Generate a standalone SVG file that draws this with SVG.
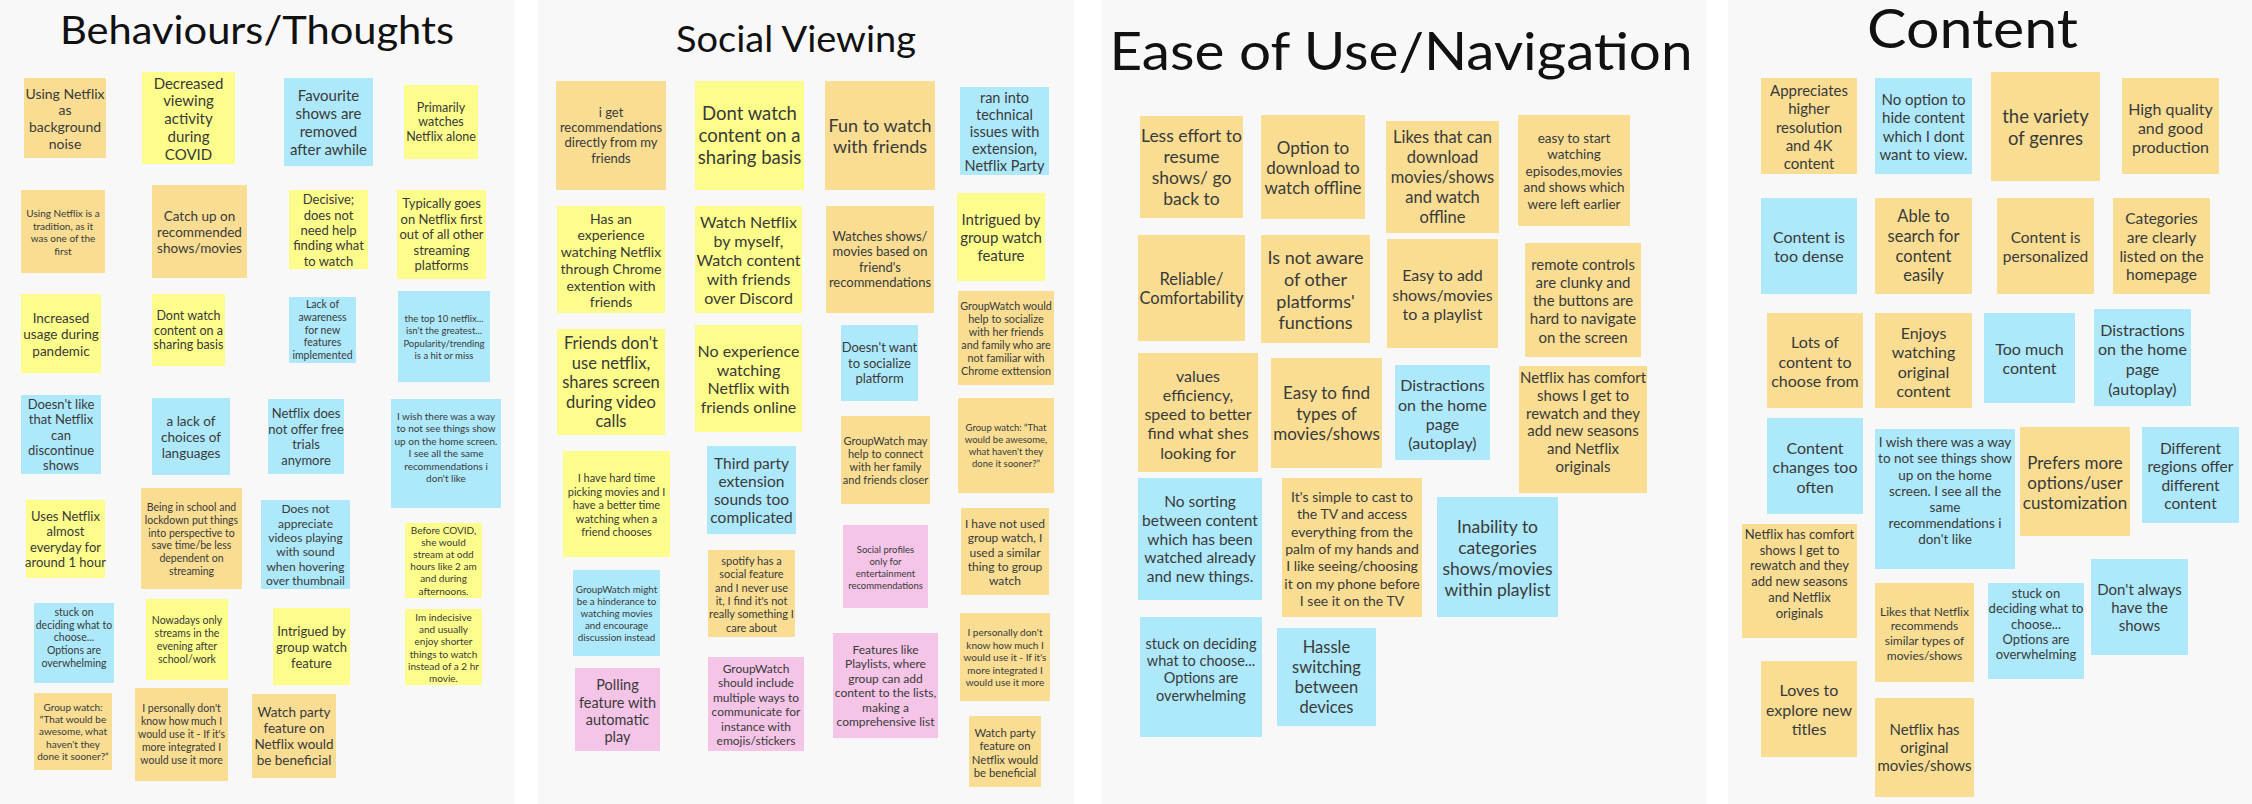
<svg xmlns="http://www.w3.org/2000/svg" width="2252" height="804" viewBox="0 0 2252 804">
<style>
.pn{fill:#f8f8f8}
.o{fill:#f8dd92}.y{fill:#fdfd8b}.b{fill:#ade9fa}.p{fill:#f4c5e7}
text{font-family:Lato,"Open Sans","Liberation Sans",sans-serif;fill:#3a3a3a;text-anchor:middle;dominant-baseline:central}
.ti{fill:#111;dominant-baseline:auto}
</style>
<rect width="2252" height="804" fill="#ffffff"/>
<g id="panels">
<rect class="pn" x="0" y="0" width="515" height="804"/>
<rect class="pn" x="538" y="0" width="536" height="804"/>
<rect class="pn" x="1101" y="0" width="606" height="804"/>
<rect class="pn" x="1728" y="0" width="524" height="804"/>
</g>
<g id="titles">
<text class="ti" x="257" y="44" font-size="38" textLength="394" lengthAdjust="spacingAndGlyphs">Behaviours/Thoughts</text>
<text class="ti" x="796" y="52" font-size="37" textLength="240" lengthAdjust="spacingAndGlyphs">Social Viewing</text>
<text class="ti" x="1401" y="70" font-size="53" textLength="583" lengthAdjust="spacingAndGlyphs">Ease of Use/Navigation</text>
<text class="ti" x="1972.5" y="48" font-size="55" textLength="211" lengthAdjust="spacingAndGlyphs">Content</text>
</g>

<g id="n1"><rect class="o" x="24" y="78" width="82" height="80"/><text font-size="14"><tspan x="65" y="92.7">Using Netflix</tspan><tspan x="65" dy="16.6">as</tspan><tspan x="65" dy="16.6">background</tspan><tspan x="65" dy="16.6">noise</tspan></text></g>
<g id="n2"><rect class="y" x="142" y="72" width="93" height="92"/><text font-size="15"><tspan x="188.5" y="82.7">Decreased</tspan><tspan x="188.5" dy="17.7">viewing</tspan><tspan x="188.5" dy="17.7">activity</tspan><tspan x="188.5" dy="17.7">during</tspan><tspan x="188.5" dy="17.7">COVID</tspan></text></g>
<g id="n3"><rect class="b" x="284" y="78" width="89" height="88"/><text font-size="15"><tspan x="328.5" y="95">Favourite</tspan><tspan x="328.5" dy="18">shows are</tspan><tspan x="328.5" dy="18">removed</tspan><tspan x="328.5" dy="18">after awhile</tspan></text></g>
<g id="n4"><rect class="y" x="404" y="85" width="74" height="74"/><text font-size="12.5"><tspan x="441" y="106.7">Primarily</tspan><tspan x="441" dy="14.7">watches</tspan><tspan x="441" dy="14.7">Netflix alone</tspan></text></g>
<g id="n5"><rect class="o" x="21" y="190" width="84" height="83"/><text font-size="10"><tspan x="63" y="213.3">Using Netflix is a</tspan><tspan x="63" dy="12.4">tradition, as it</tspan><tspan x="63" dy="12.4">was one of the</tspan><tspan x="63" dy="12.4">first</tspan></text></g>
<g id="n6"><rect class="o" x="152" y="185" width="95" height="93"/><text font-size="13.5"><tspan x="199.5" y="215.7">Catch up on</tspan><tspan x="199.5" dy="16">recommended</tspan><tspan x="199.5" dy="16">shows/movies</tspan></text></g>
<g id="n7"><rect class="y" x="289" y="190" width="79" height="79"/><text font-size="13"><tspan x="328.5" y="199.3">Decisive;</tspan><tspan x="328.5" dy="15.3">does not</tspan><tspan x="328.5" dy="15.3">need help</tspan><tspan x="328.5" dy="15.3">finding what</tspan><tspan x="328.5" dy="15.3">to watch</tspan></text></g>
<g id="n8"><rect class="y" x="397" y="190" width="89" height="89"/><text font-size="13"><tspan x="441.5" y="203.3">Typically goes</tspan><tspan x="441.5" dy="15.5">on Netflix first</tspan><tspan x="441.5" dy="15.5">out of all other</tspan><tspan x="441.5" dy="15.5">streaming</tspan><tspan x="441.5" dy="15.5">platforms</tspan></text></g>
<g id="n9"><rect class="y" x="21" y="294" width="80" height="79"/><text font-size="13.5"><tspan x="61" y="317.7">Increased</tspan><tspan x="61" dy="16.5">usage during</tspan><tspan x="61" dy="16.5">pandemic</tspan></text></g>
<g id="n10"><rect class="y" x="152" y="294" width="73" height="72"/><text font-size="12.5"><tspan x="188.5" y="315.3">Dont watch</tspan><tspan x="188.5" dy="14.5">content on a</tspan><tspan x="188.5" dy="14.5">sharing basis</tspan></text></g>
<g id="n11"><rect class="b" x="289" y="297" width="67" height="66"/><text font-size="10.5"><tspan x="322.5" y="304.3">Lack of</tspan><tspan x="322.5" dy="12.7">awareness</tspan><tspan x="322.5" dy="12.7">for new</tspan><tspan x="322.5" dy="12.7">features</tspan><tspan x="322.5" dy="12.7">implemented</tspan></text></g>
<g id="n12"><rect class="b" x="398" y="291" width="92" height="91"/><text font-size="9.5"><tspan x="444" y="318">the top 10 netflix...</tspan><tspan x="444" dy="12.3">isn't the greatest...</tspan><tspan x="444" dy="12.3">Popularity/trending</tspan><tspan x="444" dy="12.3">is a hit or miss</tspan></text></g>
<g id="n13"><rect class="b" x="21" y="395" width="80" height="79"/><text font-size="13"><tspan x="61" y="404.3">Doesn't like</tspan><tspan x="61" dy="15.1">that Netflix</tspan><tspan x="61" dy="15.1">can</tspan><tspan x="61" dy="15.1">discontinue</tspan><tspan x="61" dy="15.1">shows</tspan></text></g>
<g id="n14"><rect class="b" x="152" y="398" width="78" height="77"/><text font-size="13.5"><tspan x="191" y="420.7">a lack of</tspan><tspan x="191" dy="16">choices of</tspan><tspan x="191" dy="16">languages</tspan></text></g>
<g id="n15"><rect class="b" x="268" y="399" width="76" height="75"/><text font-size="13"><tspan x="306" y="413.3">Netflix does</tspan><tspan x="306" dy="15.5">not offer free</tspan><tspan x="306" dy="15.5">trials</tspan><tspan x="306" dy="15.5">anymore</tspan></text></g>
<g id="n16"><rect class="b" x="391" y="399" width="110" height="109"/><text font-size="10"><tspan x="446" y="415.7">I wish there was a way</tspan><tspan x="446" dy="12.5">to not see things show</tspan><tspan x="446" dy="12.5">up on the home screen.</tspan><tspan x="446" dy="12.5">I see all the same</tspan><tspan x="446" dy="12.5">recommendations i</tspan><tspan x="446" dy="12.5">don't like</tspan></text></g>
<g id="n17"><rect class="y" x="26" y="500" width="79" height="78"/><text font-size="13"><tspan x="65.5" y="516">Uses Netflix</tspan><tspan x="65.5" dy="15.3">almost</tspan><tspan x="65.5" dy="15.3">everyday for</tspan><tspan x="65.5" dy="15.3">around 1 hour</tspan></text></g>
<g id="n18"><rect class="o" x="141" y="488" width="101" height="101"/><text font-size="10.5"><tspan x="191.5" y="507">Being in school and</tspan><tspan x="191.5" dy="12.8">lockdown put things</tspan><tspan x="191.5" dy="12.8">into perspective to</tspan><tspan x="191.5" dy="12.8">save time/be less</tspan><tspan x="191.5" dy="12.8">dependent  on</tspan><tspan x="191.5" dy="12.8">streaming</tspan></text></g>
<g id="n19"><rect class="b" x="261" y="500" width="89" height="89"/><text font-size="12"><tspan x="305.5" y="508.3">Does not</tspan><tspan x="305.5" dy="14.3">appreciate</tspan><tspan x="305.5" dy="14.3">videos playing</tspan><tspan x="305.5" dy="14.3">with sound</tspan><tspan x="305.5" dy="14.3">when hovering</tspan><tspan x="305.5" dy="14.3">over thumbnail</tspan></text></g>
<g id="n20"><rect class="y" x="405" y="523" width="77" height="75"/><text font-size="10"><tspan x="443.5" y="530">Before COVID,</tspan><tspan x="443.5" dy="12.1">she would</tspan><tspan x="443.5" dy="12.1">stream at odd</tspan><tspan x="443.5" dy="12.1">hours like 2 am</tspan><tspan x="443.5" dy="12.1">and during</tspan><tspan x="443.5" dy="12.1">afternoons.</tspan></text></g>
<g id="n21"><rect class="b" x="34" y="603" width="80" height="80"/><text font-size="10.5"><tspan x="74" y="611.7">stuck on</tspan><tspan x="74" dy="12.8">deciding what to</tspan><tspan x="74" dy="12.8">choose...</tspan><tspan x="74" dy="12.8">Options are</tspan><tspan x="74" dy="12.8">overwhelming</tspan></text></g>
<g id="n22"><rect class="y" x="146" y="599" width="82" height="81"/><text font-size="10.5"><tspan x="187" y="619.7">Nowadays only</tspan><tspan x="187" dy="13">streams in the</tspan><tspan x="187" dy="13">evening after</tspan><tspan x="187" dy="13">school/work</tspan></text></g>
<g id="n23"><rect class="y" x="273" y="608" width="77" height="77"/><text font-size="13"><tspan x="311.5" y="631.3">Intrigued by</tspan><tspan x="311.5" dy="15.7">group watch</tspan><tspan x="311.5" dy="15.7">feature</tspan></text></g>
<g id="n24"><rect class="y" x="405" y="609" width="77" height="76"/><text font-size="10"><tspan x="443.5" y="616.7">Im indecisive</tspan><tspan x="443.5" dy="12.3">and usually</tspan><tspan x="443.5" dy="12.3">enjoy shorter</tspan><tspan x="443.5" dy="12.3">things to watch</tspan><tspan x="443.5" dy="12.3">instead of a 2 hr</tspan><tspan x="443.5" dy="12.3">movie.</tspan></text></g>
<g id="n25"><rect class="o" x="34" y="693" width="78" height="77"/><text font-size="10"><tspan x="73" y="707">Group watch:</tspan><tspan x="73" dy="12.2">“That would be</tspan><tspan x="73" dy="12.2">awesome, what</tspan><tspan x="73" dy="12.2">haven't they</tspan><tspan x="73" dy="12.2">done it sooner?”</tspan></text></g>
<g id="n26"><rect class="o" x="135" y="688" width="93" height="93"/><text font-size="10.5"><tspan x="181.5" y="708.3">I personally don't</tspan><tspan x="181.5" dy="12.9">know how much  I</tspan><tspan x="181.5" dy="12.9">would use it - If it's</tspan><tspan x="181.5" dy="12.9">more integrated I</tspan><tspan x="181.5" dy="12.9">would use it more</tspan></text></g>
<g id="n27"><rect class="o" x="252" y="694" width="84" height="84"/><text font-size="13.5"><tspan x="294" y="712">Watch party</tspan><tspan x="294" dy="16.1">feature on</tspan><tspan x="294" dy="16.1">Netflix would</tspan><tspan x="294" dy="16.1">be beneficial</tspan></text></g>

<g id="s1"><rect class="o" x="556" y="81" width="110" height="109"/><text font-size="13"><tspan x="611" y="111.7">i get</tspan><tspan x="611" dy="15.3">recommendations</tspan><tspan x="611" dy="15.3">directly from my</tspan><tspan x="611" dy="15.3">friends</tspan></text></g>
<g id="s2"><rect class="y" x="695" y="81" width="109" height="109"/><text font-size="18.5"><tspan x="749.5" y="113.3">Dont watch</tspan><tspan x="749.5" dy="22">content on a</tspan><tspan x="749.5" dy="22">sharing basis</tspan></text></g>
<g id="s3"><rect class="o" x="825" y="81" width="110" height="109"/><text font-size="18"><tspan x="880" y="124.7">Fun to watch</tspan><tspan x="880" dy="21.3">with friends</tspan></text></g>
<g id="s4"><rect class="b" x="960" y="87" width="89" height="88"/><text font-size="14.5"><tspan x="1004.5" y="96.7">ran into</tspan><tspan x="1004.5" dy="17.1">technical</tspan><tspan x="1004.5" dy="17.1">issues with</tspan><tspan x="1004.5" dy="17.1">extension,</tspan><tspan x="1004.5" dy="17.1">Netflix Party</tspan></text></g>
<g id="s5"><rect class="y" x="557" y="206" width="108" height="107"/><text font-size="14"><tspan x="611" y="217.7">Has an</tspan><tspan x="611" dy="16.7">experience</tspan><tspan x="611" dy="16.7">watching Netflix</tspan><tspan x="611" dy="16.7">through Chrome</tspan><tspan x="611" dy="16.7">extention with</tspan><tspan x="611" dy="16.7">friends</tspan></text></g>
<g id="s6"><rect class="y" x="695" y="206" width="107" height="107"/><text font-size="16"><tspan x="748.5" y="221">Watch Netflix</tspan><tspan x="748.5" dy="19">by myself,</tspan><tspan x="748.5" dy="19">Watch content</tspan><tspan x="748.5" dy="19">with friends</tspan><tspan x="748.5" dy="19">over Discord</tspan></text></g>
<g id="s7"><rect class="o" x="826" y="206" width="108" height="107"/><text font-size="13"><tspan x="880" y="236">Watches shows/</tspan><tspan x="880" dy="15.4">movies based on</tspan><tspan x="880" dy="15.4">friend's</tspan><tspan x="880" dy="15.4">recommendations</tspan></text></g>
<g id="s8"><rect class="y" x="957" y="193" width="88" height="88"/><text font-size="15"><tspan x="1001" y="219.3">Intrigued by</tspan><tspan x="1001" dy="17.7">group watch</tspan><tspan x="1001" dy="17.7">feature</tspan></text></g>
<g id="s9"><rect class="o" x="958" y="291" width="96" height="94"/><text font-size="10.8"><tspan x="1006" y="305">GroupWatch would</tspan><tspan x="1006" dy="13">help to socialize</tspan><tspan x="1006" dy="13">with her friends</tspan><tspan x="1006" dy="13">and family who are</tspan><tspan x="1006" dy="13">not familiar with</tspan><tspan x="1006" dy="13">Chrome exttension</tspan></text></g>
<g id="s10"><rect class="y" x="557" y="329" width="108" height="106"/><text font-size="16.5"><tspan x="611" y="343.3">Friends don't</tspan><tspan x="611" dy="19.5">use netflix,</tspan><tspan x="611" dy="19.5">shares screen</tspan><tspan x="611" dy="19.5">during video</tspan><tspan x="611" dy="19.5">calls</tspan></text></g>
<g id="s11"><rect class="y" x="695" y="325" width="107" height="107"/><text font-size="16"><tspan x="748.5" y="350">No experience</tspan><tspan x="748.5" dy="18.7">watching</tspan><tspan x="748.5" dy="18.7">Netflix with</tspan><tspan x="748.5" dy="18.7">friends online</tspan></text></g>
<g id="s12"><rect class="b" x="841" y="325" width="77" height="76"/><text font-size="13"><tspan x="879.5" y="347.3">Doesn't want</tspan><tspan x="879.5" dy="15.5">to socialize</tspan><tspan x="879.5" dy="15.5">platform</tspan></text></g>
<g id="s13"><rect class="y" x="563" y="451" width="107" height="106"/><text font-size="11"><tspan x="616.5" y="477.3">I have hard time</tspan><tspan x="616.5" dy="13.4">picking movies and I</tspan><tspan x="616.5" dy="13.4">have a better time</tspan><tspan x="616.5" dy="13.4">watching when a</tspan><tspan x="616.5" dy="13.4">friend chooses</tspan></text></g>
<g id="s14"><rect class="b" x="707" y="446" width="89" height="88"/><text font-size="15.5"><tspan x="751.5" y="462.7">Third party</tspan><tspan x="751.5" dy="18">extension</tspan><tspan x="751.5" dy="18">sounds too</tspan><tspan x="751.5" dy="18">complicated</tspan></text></g>
<g id="s15"><rect class="o" x="841" y="416" width="89" height="88"/><text font-size="11"><tspan x="885.5" y="440.3">GroupWatch may</tspan><tspan x="885.5" dy="13">help to connect</tspan><tspan x="885.5" dy="13">with her family</tspan><tspan x="885.5" dy="13">and friends closer</tspan></text></g>
<g id="s16"><rect class="o" x="958" y="398" width="96" height="95"/><text font-size="9.5"><tspan x="1006" y="427.3">Group watch: “That</tspan><tspan x="1006" dy="12">would be awesome,</tspan><tspan x="1006" dy="12">what haven't they</tspan><tspan x="1006" dy="12">done it sooner?”</tspan></text></g>
<g id="s17"><rect class="b" x="573" y="570" width="87" height="86"/><text font-size="9.8"><tspan x="616.5" y="588.7">GroupWatch might</tspan><tspan x="616.5" dy="12.1">be a hinderance to</tspan><tspan x="616.5" dy="12.1">watching movies</tspan><tspan x="616.5" dy="12.1">and encourage</tspan><tspan x="616.5" dy="12.1">discussion instead</tspan></text></g>
<g id="s18"><rect class="o" x="708" y="550" width="87" height="87"/><text font-size="11"><tspan x="751.5" y="560">spotify has a</tspan><tspan x="751.5" dy="13.3">social feature</tspan><tspan x="751.5" dy="13.3">and I never use</tspan><tspan x="751.5" dy="13.3">it, I find it's not</tspan><tspan x="751.5" dy="13.3">really something I</tspan><tspan x="751.5" dy="13.3">care about</tspan></text></g>
<g id="s19"><rect class="p" x="843" y="525" width="85" height="83"/><text font-size="9.5"><tspan x="885.5" y="549">Social profiles</tspan><tspan x="885.5" dy="11.9">only for</tspan><tspan x="885.5" dy="11.9">entertainment</tspan><tspan x="885.5" dy="11.9">recommendations</tspan></text></g>
<g id="s20"><rect class="o" x="961" y="508" width="88" height="87"/><text font-size="12"><tspan x="1005" y="523">I have not used</tspan><tspan x="1005" dy="14.3">group watch, I</tspan><tspan x="1005" dy="14.3">used a similar</tspan><tspan x="1005" dy="14.3">thing to group</tspan><tspan x="1005" dy="14.3">watch</tspan></text></g>
<g id="s21"><rect class="p" x="575" y="668" width="85" height="83"/><text font-size="14.5"><tspan x="617.5" y="684.3">Polling</tspan><tspan x="617.5" dy="17.2">feature with</tspan><tspan x="617.5" dy="17.2">automatic</tspan><tspan x="617.5" dy="17.2">play</tspan></text></g>
<g id="s22"><rect class="p" x="708" y="657" width="96" height="94"/><text font-size="12"><tspan x="756" y="667.7">GroupWatch</tspan><tspan x="756" dy="14.5">should include</tspan><tspan x="756" dy="14.5">multiple ways to</tspan><tspan x="756" dy="14.5">communicate for</tspan><tspan x="756" dy="14.5">instance with</tspan><tspan x="756" dy="14.5">emojis/stickers</tspan></text></g>
<g id="s23"><rect class="p" x="833" y="633" width="105" height="105"/><text font-size="12"><tspan x="885.5" y="649">Features like</tspan><tspan x="885.5" dy="14.4">Playlists, where</tspan><tspan x="885.5" dy="14.4">group can add</tspan><tspan x="885.5" dy="14.4">content to the lists,</tspan><tspan x="885.5" dy="14.4">making a</tspan><tspan x="885.5" dy="14.4">comprehensive list</tspan></text></g>
<g id="s24"><rect class="o" x="960" y="613" width="90" height="88"/><text font-size="10"><tspan x="1005" y="632.3">I personally don't</tspan><tspan x="1005" dy="12.4">know how much  I</tspan><tspan x="1005" dy="12.4">would use it - If it's</tspan><tspan x="1005" dy="12.4">more integrated I</tspan><tspan x="1005" dy="12.4">would use it more</tspan></text></g>
<g id="s25"><rect class="o" x="969" y="716" width="72" height="71"/><text font-size="11.3"><tspan x="1005" y="731.7">Watch party</tspan><tspan x="1005" dy="13.5">feature on</tspan><tspan x="1005" dy="13.5">Netflix would</tspan><tspan x="1005" dy="13.5">be beneficial</tspan></text></g>

<g id="e1"><rect class="o" x="1140" y="116" width="103" height="102"/><text font-size="17.5"><tspan x="1191.5" y="135.3">Less effort to</tspan><tspan x="1191.5" dy="21">resume</tspan><tspan x="1191.5" dy="21">shows/ go</tspan><tspan x="1191.5" dy="21">back to</tspan></text></g>
<g id="e2"><rect class="o" x="1261" y="115" width="104" height="104"/><text font-size="17"><tspan x="1313" y="146.7">Option to</tspan><tspan x="1313" dy="20.3">download to</tspan><tspan x="1313" dy="20.3">watch offline</tspan></text></g>
<g id="e3"><rect class="o" x="1386" y="121" width="113" height="112"/><text font-size="16.5"><tspan x="1442.5" y="136.7">Likes that can</tspan><tspan x="1442.5" dy="20">download</tspan><tspan x="1442.5" dy="20">movies/shows</tspan><tspan x="1442.5" dy="20">and watch</tspan><tspan x="1442.5" dy="20">offline</tspan></text></g>
<g id="e4"><rect class="o" x="1518" y="115" width="112" height="111"/><text font-size="13.5"><tspan x="1574" y="137.7">easy to start</tspan><tspan x="1574" dy="16.5">watching</tspan><tspan x="1574" dy="16.5">episodes,movies</tspan><tspan x="1574" dy="16.5">and shows which</tspan><tspan x="1574" dy="16.5">were left earlier</tspan></text></g>
<g id="e5"><rect class="o" x="1138" y="235" width="107" height="106"/><text font-size="16.5"><tspan x="1191.5" y="278.7">Reliable/</tspan><tspan x="1191.5" dy="19.7">Comfortability</tspan></text></g>
<g id="e6"><rect class="o" x="1261" y="235" width="109" height="108"/><text font-size="18"><tspan x="1315.5" y="256.7">Is not aware</tspan><tspan x="1315.5" dy="21.9">of other</tspan><tspan x="1315.5" dy="21.9">platforms'</tspan><tspan x="1315.5" dy="21.9">functions</tspan></text></g>
<g id="e7"><rect class="o" x="1387" y="239" width="111" height="109"/><text font-size="16"><tspan x="1442.5" y="274.3">Easy to add</tspan><tspan x="1442.5" dy="19.5">shows/movies</tspan><tspan x="1442.5" dy="19.5">to a playlist</tspan></text></g>
<g id="e8"><rect class="o" x="1525" y="243" width="116" height="114"/><text font-size="15"><tspan x="1583" y="263.7">remote controls</tspan><tspan x="1583" dy="18.2">are clunky and</tspan><tspan x="1583" dy="18.2">the buttons are</tspan><tspan x="1583" dy="18.2">hard to navigate</tspan><tspan x="1583" dy="18.2">on the screen</tspan></text></g>
<g id="e9"><rect class="o" x="1138" y="353" width="120" height="119"/><text font-size="16"><tspan x="1198" y="374.7">values</tspan><tspan x="1198" dy="19.2">efficiency,</tspan><tspan x="1198" dy="19.2">speed to better</tspan><tspan x="1198" dy="19.2">find what shes</tspan><tspan x="1198" dy="19.2">looking for</tspan></text></g>
<g id="e10"><rect class="o" x="1271" y="358" width="111" height="110"/><text font-size="17"><tspan x="1326.5" y="392.3">Easy to find</tspan><tspan x="1326.5" dy="20.3">types of</tspan><tspan x="1326.5" dy="20.3">movies/shows</tspan></text></g>
<g id="e11"><rect class="b" x="1395" y="365" width="95" height="95"/><text font-size="16"><tspan x="1442.5" y="384.3">Distractions</tspan><tspan x="1442.5" dy="19.3">on the home</tspan><tspan x="1442.5" dy="19.3">page</tspan><tspan x="1442.5" dy="19.3">(autoplay)</tspan></text></g>
<g id="e12"><rect class="o" x="1519" y="366" width="128" height="127"/><text font-size="15"><tspan x="1583" y="377">Netflix has comfort</tspan><tspan x="1583" dy="17.8">shows I get to</tspan><tspan x="1583" dy="17.8">rewatch and they</tspan><tspan x="1583" dy="17.8">add new seasons</tspan><tspan x="1583" dy="17.8">and Netflix</tspan><tspan x="1583" dy="17.8">originals</tspan></text></g>
<g id="e13"><rect class="b" x="1138" y="478" width="124" height="122"/><text font-size="15.5"><tspan x="1200" y="501.3">No sorting</tspan><tspan x="1200" dy="18.7">between content</tspan><tspan x="1200" dy="18.7">which has been</tspan><tspan x="1200" dy="18.7">watched already</tspan><tspan x="1200" dy="18.7">and new things.</tspan></text></g>
<g id="e14"><rect class="o" x="1282" y="478" width="140" height="139"/><text font-size="14"><tspan x="1352" y="496">It's simple to cast to</tspan><tspan x="1352" dy="17.3">the TV and access</tspan><tspan x="1352" dy="17.3">everything from the</tspan><tspan x="1352" dy="17.3">palm of my hands and</tspan><tspan x="1352" dy="17.3">I like seeing/choosing</tspan><tspan x="1352" dy="17.3">it on my phone before</tspan><tspan x="1352" dy="17.3">I see it on the TV</tspan></text></g>
<g id="e15"><rect class="b" x="1437" y="497" width="121" height="120"/><text font-size="17.5"><tspan x="1497.5" y="526">Inability to</tspan><tspan x="1497.5" dy="20.9">categories</tspan><tspan x="1497.5" dy="20.9">shows/movies</tspan><tspan x="1497.5" dy="20.9">within playlist</tspan></text></g>
<g id="e16"><rect class="b" x="1140" y="617" width="122" height="120"/><text font-size="14.5"><tspan x="1201" y="642.7">stuck on deciding</tspan><tspan x="1201" dy="17.3">what to choose...</tspan><tspan x="1201" dy="17.3">Options are</tspan><tspan x="1201" dy="17.3">overwhelming</tspan></text></g>
<g id="e17"><rect class="b" x="1277" y="628" width="99" height="98"/><text font-size="16.5"><tspan x="1326.5" y="647.3">Hassle</tspan><tspan x="1326.5" dy="19.8">switching</tspan><tspan x="1326.5" dy="19.8">between</tspan><tspan x="1326.5" dy="19.8">devices</tspan></text></g>

<g id="c1"><rect class="o" x="1761" y="78" width="96" height="96"/><text font-size="15"><tspan x="1809" y="90">Appreciates</tspan><tspan x="1809" dy="18.3">higher</tspan><tspan x="1809" dy="18.3">resolution</tspan><tspan x="1809" dy="18.3">and 4K</tspan><tspan x="1809" dy="18.3">content</tspan></text></g>
<g id="c2"><rect class="b" x="1875" y="78" width="97" height="96"/><text font-size="15"><tspan x="1923.5" y="98.7">No option to</tspan><tspan x="1923.5" dy="18.4">hide content</tspan><tspan x="1923.5" dy="18.4">which I dont</tspan><tspan x="1923.5" dy="18.4">want to view.</tspan></text></g>
<g id="c3"><rect class="o" x="1991" y="72" width="109" height="109"/><text font-size="18.5"><tspan x="2045.5" y="115.7">the variety</tspan><tspan x="2045.5" dy="22.3">of  genres</tspan></text></g>
<g id="c4"><rect class="o" x="2122" y="78" width="97" height="96"/><text font-size="16"><tspan x="2170.5" y="107.7">High quality</tspan><tspan x="2170.5" dy="19.3">and good</tspan><tspan x="2170.5" dy="19.3">production</tspan></text></g>
<g id="c5"><rect class="b" x="1761" y="198" width="96" height="96"/><text font-size="16"><tspan x="1809" y="236">Content is</tspan><tspan x="1809" dy="19.3">too dense</tspan></text></g>
<g id="c6"><rect class="o" x="1875" y="198" width="97" height="96"/><text font-size="16.5"><tspan x="1923.5" y="216.3">Able to</tspan><tspan x="1923.5" dy="19.7">search for</tspan><tspan x="1923.5" dy="19.7">content</tspan><tspan x="1923.5" dy="19.7">easily</tspan></text></g>
<g id="c7"><rect class="o" x="1997" y="198" width="97" height="96"/><text font-size="15.5"><tspan x="2045.5" y="237">Content is</tspan><tspan x="2045.5" dy="18.7">personalized</tspan></text></g>
<g id="c8"><rect class="o" x="2113" y="198" width="97" height="96"/><text font-size="15.5"><tspan x="2161.5" y="217.7">Categories</tspan><tspan x="2161.5" dy="18.9">are clearly</tspan><tspan x="2161.5" dy="18.9">listed on the</tspan><tspan x="2161.5" dy="18.9">homepage</tspan></text></g>
<g id="c9"><rect class="o" x="1767" y="313" width="96" height="95"/><text font-size="16"><tspan x="1815" y="341.3">Lots of</tspan><tspan x="1815" dy="19.5">content to</tspan><tspan x="1815" dy="19.5">choose from</tspan></text></g>
<g id="c10"><rect class="o" x="1875" y="313" width="97" height="95"/><text font-size="16"><tspan x="1923.5" y="331.7">Enjoys</tspan><tspan x="1923.5" dy="19.5">watching</tspan><tspan x="1923.5" dy="19.5">original</tspan><tspan x="1923.5" dy="19.5">content</tspan></text></g>
<g id="c11"><rect class="b" x="1984" y="313" width="91" height="90"/><text font-size="16"><tspan x="2029.5" y="348">Too much</tspan><tspan x="2029.5" dy="19">content</tspan></text></g>
<g id="c12"><rect class="b" x="2094" y="309" width="97" height="97"/><text font-size="16"><tspan x="2142.5" y="328.7">Distractions</tspan><tspan x="2142.5" dy="19.6">on the home</tspan><tspan x="2142.5" dy="19.6">page</tspan><tspan x="2142.5" dy="19.6">(autoplay)</tspan></text></g>
<g id="c13"><rect class="b" x="1767" y="418" width="96" height="96"/><text font-size="16"><tspan x="1815" y="446.7">Content</tspan><tspan x="1815" dy="19.5">changes too</tspan><tspan x="1815" dy="19.5">often</tspan></text></g>
<g id="c14"><rect class="b" x="1875" y="429" width="140" height="140"/><text font-size="13.5"><tspan x="1945" y="442.3">I wish there was a way</tspan><tspan x="1945" dy="16.1">to not see things show</tspan><tspan x="1945" dy="16.1">up on the home</tspan><tspan x="1945" dy="16.1">screen. I see all the</tspan><tspan x="1945" dy="16.1">same</tspan><tspan x="1945" dy="16.1">recommendations i</tspan><tspan x="1945" dy="16.1">don't like</tspan></text></g>
<g id="c15"><rect class="o" x="2020" y="427" width="110" height="109"/><text font-size="17"><tspan x="2075" y="462">Prefers more</tspan><tspan x="2075" dy="20">options/user</tspan><tspan x="2075" dy="20">customization</tspan></text></g>
<g id="c16"><rect class="b" x="2142" y="427" width="97" height="96"/><text font-size="15.5"><tspan x="2190.5" y="447.7">Different</tspan><tspan x="2190.5" dy="18.4">regions offer</tspan><tspan x="2190.5" dy="18.4">different</tspan><tspan x="2190.5" dy="18.4">content</tspan></text></g>
<g id="c17"><rect class="o" x="1742" y="524" width="115" height="114"/><text font-size="13"><tspan x="1799.5" y="534">Netflix has comfort</tspan><tspan x="1799.5" dy="15.7">shows I get to</tspan><tspan x="1799.5" dy="15.7">rewatch and they</tspan><tspan x="1799.5" dy="15.7">add new seasons</tspan><tspan x="1799.5" dy="15.7">and Netflix</tspan><tspan x="1799.5" dy="15.7">originals</tspan></text></g>
<g id="c18"><rect class="o" x="1875" y="583" width="99" height="99"/><text font-size="12"><tspan x="1924.5" y="610.7">Likes that Netflix</tspan><tspan x="1924.5" dy="14.7">recommends</tspan><tspan x="1924.5" dy="14.7">similar types of</tspan><tspan x="1924.5" dy="14.7">movies/shows</tspan></text></g>
<g id="c19"><rect class="b" x="1988" y="583" width="96" height="96"/><text font-size="13"><tspan x="2036" y="592.7">stuck on</tspan><tspan x="2036" dy="15.4">deciding what to</tspan><tspan x="2036" dy="15.4">choose...</tspan><tspan x="2036" dy="15.4">Options are</tspan><tspan x="2036" dy="15.4">overwhelming</tspan></text></g>
<g id="c20"><rect class="b" x="2091" y="559" width="97" height="96"/><text font-size="15"><tspan x="2139.5" y="589.3">Don't always</tspan><tspan x="2139.5" dy="18">have the</tspan><tspan x="2139.5" dy="18">shows</tspan></text></g>
<g id="c21"><rect class="o" x="1761" y="661" width="96" height="96"/><text font-size="16"><tspan x="1809" y="689.3">Loves to</tspan><tspan x="1809" dy="19.5">explore new</tspan><tspan x="1809" dy="19.5">titles</tspan></text></g>
<g id="c22"><rect class="o" x="1875" y="698" width="99" height="99"/><text font-size="15"><tspan x="1924.5" y="729.3">Netflix has</tspan><tspan x="1924.5" dy="17.8">original</tspan><tspan x="1924.5" dy="17.8">movies/shows</tspan></text></g>
</svg>
